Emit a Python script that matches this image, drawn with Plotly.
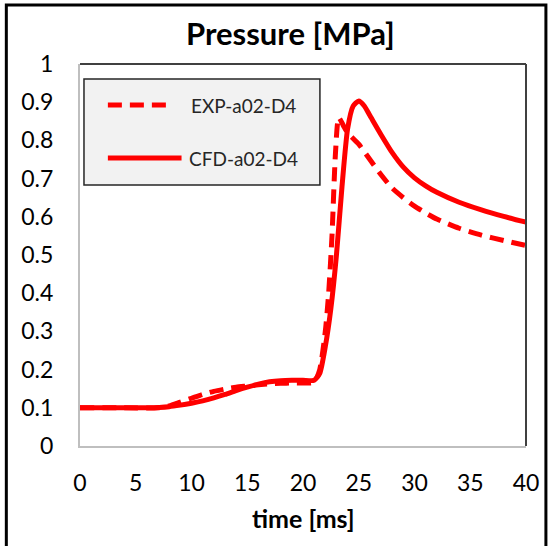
import plotly.graph_objects as go

# Measured pressure (dashed) and CFD prediction (solid), time in ms, pressure in MPa
exp_t = [0, 4, 7, 8, 9, 10, 11, 12, 13, 14, 15, 16, 17, 18, 19, 20, 21, 21.5,
         22, 22.3, 22.6, 22.9, 23.2, 23.6, 24, 25, 26, 27, 28, 29, 30, 31, 32, 34, 36, 38, 40]
exp_p = [0.1, 0.1, 0.1, 0.105, 0.115, 0.125, 0.135, 0.143, 0.149, 0.154, 0.157, 0.16,
         0.163, 0.164, 0.165, 0.165, 0.167, 0.2,
         0.3, 0.4, 0.55, 0.76, 0.86, 0.84, 0.82, 0.79, 0.75, 0.71, 0.675, 0.65, 0.628,
         0.61, 0.594, 0.57, 0.552, 0.538, 0.525]

cfd_t = [0, 4, 6, 8, 9, 10, 11, 12, 13, 14, 15, 16, 17, 18, 19, 20, 21, 21.5,
         22, 22.5, 23, 23.5, 24, 24.5, 25, 25.5, 26, 27, 28, 29, 30, 31, 32, 34, 36, 38, 40]
cfd_p = [0.1, 0.1, 0.1, 0.103, 0.107, 0.112, 0.118, 0.126, 0.135, 0.145, 0.154, 0.162,
         0.168, 0.171, 0.172, 0.172, 0.172, 0.19,
         0.26, 0.36, 0.5, 0.68, 0.83, 0.89, 0.903, 0.89, 0.865, 0.815, 0.768, 0.73, 0.702,
         0.681, 0.664, 0.638, 0.618, 0.601, 0.586]

x_ticks = [0, 5, 10, 15, 20, 25, 30, 35, 40]
y_ticks = [0, 0.1, 0.2, 0.3, 0.4, 0.5, 0.6, 0.7, 0.8, 0.9, 1]
y_labels = ["0", "0.1", "0.2", "0.3", "0.4", "0.5", "0.6", "0.7", "0.8", "0.9", "1"]

series_names = ["EXP-a02-D4", "CFD-a02-D4"]

FONT = "Lato"
RED = "#ff0000"

fig = go.Figure()
fig.add_trace(go.Scatter(x=exp_t, y=exp_p, mode="lines", name=series_names[0],
                         line=dict(color=RED, width=5, dash="14px,8px", shape="spline",
                                   smoothing=0.6)))
fig.add_trace(go.Scatter(x=cfd_t, y=cfd_p, mode="lines", name=series_names[1],
                         line=dict(color=RED, width=5, shape="spline", smoothing=0.6)))

W, H = 551, 546
L, R, T, B = 80, 23, 64, 100
pw, ph = W - L - R, H - T - B


def px(x):
    return (x - L) / pw


def py(y):
    return (H - B - y) / ph


shapes = [
    # outer frame
    dict(type="rect", xref="paper", yref="paper", x0=px(6), x1=px(548), y0=py(580), y1=py(5),
         line=dict(color="black", width=3)),
    # top and right border of plot area
    dict(type="line", xref="paper", yref="paper", x0=0, x1=1, y0=1, y1=1,
         line=dict(color="#404040", width=2)),
    dict(type="line", xref="paper", yref="paper", x0=1, x1=1, y0=0, y1=1,
         line=dict(color="#404040", width=2)),
    # legend box
    dict(type="rect", xref="paper", yref="paper", x0=px(84), x1=px(321), y0=py(185), y1=py(79),
         fillcolor="#f2f2f2", line=dict(color="#262626", width=1.5), layer="below"),
    # legend samples
    dict(type="line", xref="paper", yref="paper", x0=px(108), x1=px(174), y0=py(105), y1=py(105),
         line=dict(color=RED, width=5, dash="14px,8px")),
    dict(type="line", xref="paper", yref="paper", x0=px(108), x1=px(182), y0=py(158), y1=py(158),
         line=dict(color=RED, width=5)),
]


def label(text, x, y, size, anchor="center", color="black"):
    return dict(text=text, xref="paper", yref="paper", x=px(x), y=py(y),
                xanchor=anchor, yanchor="middle", showarrow=False,
                font=dict(family=FONT, size=size, color=color))


annotations = [
    label("<b>Pressure [MPa]</b>", 291, 33, 31),
    label("<b>time [ms]</b>", 304, 518, 25),
    label(series_names[0], 189, 105, 19, "left", "#262626"),
    label(series_names[1], 187, 158, 19, "left", "#262626"),
]

fig.update_layout(
    width=W, height=H,
    margin=dict(l=L, r=R, t=T, b=B),
    paper_bgcolor="white", plot_bgcolor="white",
    showlegend=False,
    shapes=shapes, annotations=annotations,
    font=dict(family=FONT, color="black"),
)
fig.update_xaxes(range=[0, 40], tickvals=x_ticks, ticks="", showgrid=False, zeroline=False,
                 showline=True, linecolor="#bfbfbf", linewidth=2,
                 tickfont=dict(family=FONT, size=23, color="black"), ticklabelstandoff=15)
fig.update_yaxes(range=[0, 1], tickvals=y_ticks, ticktext=y_labels, ticks="", showgrid=False,
                 zeroline=False, showline=True, linecolor="#bfbfbf", linewidth=2,
                 tickfont=dict(family=FONT, size=23, color="black"), ticklabelstandoff=20)

fig.write_html("out.html")
